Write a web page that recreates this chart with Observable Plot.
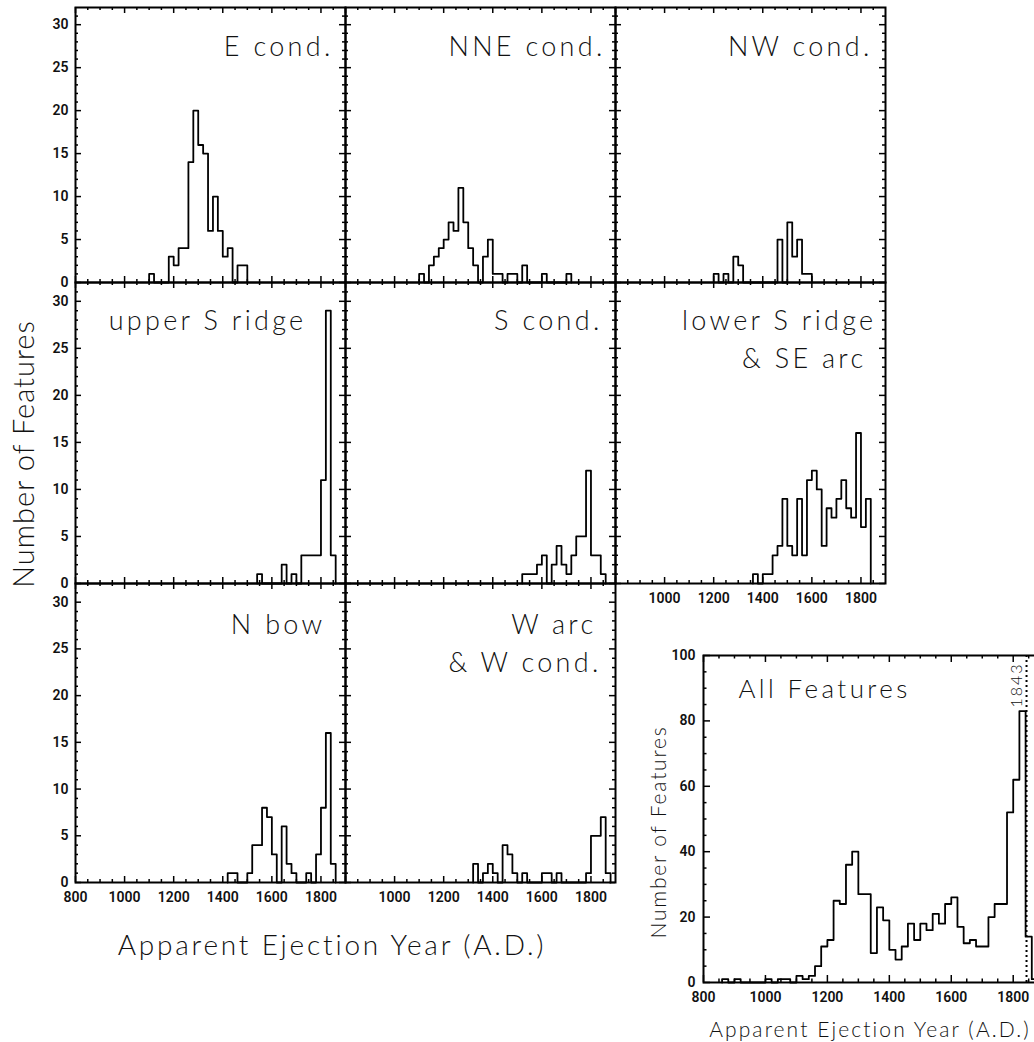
<!DOCTYPE html>
<html>
<head>
<meta charset="utf-8">
<script src="https://cdn.jsdelivr.net/npm/d3@7"></script>
<script src="https://cdn.jsdelivr.net/npm/@observablehq/plot@0.6"></script>
<style>
  html, body { margin: 0; padding: 0; background: #fff; }
  #fig { position: relative; width: 1034px; height: 1042px; overflow: hidden; background: #fff; }
  #fig svg { position: absolute; }
  .axlabel { position: absolute; white-space: nowrap; font-family: Lato, "DejaVu Sans", sans-serif; font-weight: 300; color: #111; line-height: 1; }
</style>
</head>
<body>
<div id="fig"></div>
<script>
// ---------- data ----------
const binWidth = 20;

const yearTicks = [800, 1000, 1200, 1400, 1600, 1800];
const yearTicksNo800 = [1000, 1200, 1400, 1600, 1800];
const yearMinorTicks = [850, 900, 950, 1050, 1100, 1150, 1250, 1300, 1350, 1450, 1500, 1550, 1650, 1700, 1750, 1850];
const countTicks = [0, 5, 10, 15, 20, 25, 30];
const countMinorTicks = [1, 2, 3, 4, 6, 7, 8, 9, 11, 12, 13, 14, 16, 17, 18, 19, 21, 22, 23, 24, 26, 27, 28, 29, 31];
const allTicks = [0, 20, 40, 60, 80, 100];
const allMinorTicks = [5, 10, 15, 25, 30, 35, 45, 50, 55, 65, 70, 75, 85, 90, 95];
const eventYear = 1843;

const eCondStart = 1100;
const eCondCounts = [1, 0, 0, 0, 3, 2, 4, 4, 14, 20, 16, 15, 6, 10, 6, 3, 4, 0, 2, 2];
const nneCondStart = 1100;
const nneCondCounts = [1, 0, 2, 3, 4, 5, 7, 6, 11, 7, 4, 2, 0, 3, 5, 1, 1, 0, 1, 1, 0, 2, 0, 0, 0, 1, 0, 0, 0, 0, 1];
const nwCondStart = 1200;
const nwCondCounts = [1, 0, 1, 0, 3, 2, 0, 0, 0, 0, 0, 0, 0, 5, 0, 7, 3, 5, 1, 1];
const upperSRidgeStart = 1540;
const upperSRidgeCounts = [1, 0, 0, 0, 0, 2, 0, 1, 0, 3, 3, 3, 3, 11, 29, 3];
const sCondStart = 1520;
const sCondCounts = [1, 1, 1, 2, 3, 0, 2, 4, 2, 1, 3, 5, 5, 12, 3, 3, 1];
const lowerSRidgeStart = 1360;
const lowerSRidgeCounts = [1, 0, 1, 1, 3, 4, 9, 4, 3, 9, 3, 11, 12, 10, 4, 8, 7, 9, 11, 8, 7, 16, 6, 9];
const nBowStart = 1420;
const nBowCounts = [1, 1, 0, 0, 1, 4, 4, 8, 7, 3, 0, 6, 2, 1, 0, 0, 1, 0, 3, 8, 16, 2];
const wArcStart = 1320;
const wArcCounts = [2, 0, 1, 2, 1, 0, 4, 3, 1, 0, 1, 0, 0, 0, 1, 1, 0, 1, 0, 0, 0, 0, 0, 1, 5, 5, 7, 1];
const allStart = 860;
const allCounts = [1, 0, 1, 0, 0, 0, 0, 1, 0, 1, 1, 0, 2, 1, 2, 5, 11, 13, 25, 24, 36, 40, 27, 27, 9, 23, 19, 10, 7, 11, 18, 13, 18, 16, 21, 18, 24, 26, 17, 12, 13, 11, 11, 20, 24, 24, 52, 62, 83, 14, 1];

const panelTitles = [
  ["E cond."], ["NNE cond."], ["NW cond."],
  ["upper S ridge"], ["S cond."], ["lower S ridge", "& SE arc"],
  ["N bow"], ["W arc", "& W cond."]
];

// ---------- layout ----------
const colLefts = [75, 345, 615];
const rowTops = [7, 282, 583];
const rowHeights = [275, 301, 299];
const panelWidth = 270;
const TICK_FONT = "Roboto, 'Liberation Sans', Arial, sans-serif";
const TEXT_FONT = "Lato, 'DejaVu Sans', sans-serif";

const panels = [
  {start: eCondStart, counts: eCondCounts, title: panelTitles[0], col: 0, row: 0, right: [12], base: 48, yLabels: true},
  {start: nneCondStart, counts: nneCondCounts, title: panelTitles[1], col: 1, row: 0, right: [10], base: 48},
  {start: nwCondStart, counts: nwCondCounts, title: panelTitles[2], col: 2, row: 0, right: [13], base: 48},
  {start: upperSRidgeStart, counts: upperSRidgeCounts, title: panelTitles[3], col: 0, row: 1, right: [39], base: 47, yLabels: true},
  {start: sCondStart, counts: sCondCounts, title: panelTitles[4], col: 1, row: 1, right: [13], base: 47},
  {start: lowerSRidgeStart, counts: lowerSRidgeCounts, title: panelTitles[5], col: 2, row: 1, right: [9, 19], base: 47, xLabels: yearTicksNo800},
  {start: nBowStart, counts: nBowCounts, title: panelTitles[6], col: 0, row: 2, right: [20], base: 50, yLabels: true, xLabels: yearTicks},
  {start: wArcStart, counts: wArcCounts, title: panelTitles[7], col: 1, row: 2, right: [19, 14], base: 50, xLabels: yearTicksNo800}
];

const fig = document.getElementById("fig");

function stepRows(start, counts) {
  const rows = [{year: start, n: 0}];
  counts.forEach((c, i) => {
    rows.push({year: start + i * binWidth, n: c});
    rows.push({year: start + (i + 1) * binWidth, n: c});
  });
  rows.push({year: start + counts.length * binWidth, n: 0});
  return rows;
}

function tickMarks(w, h, xMaj, xMin, yMaj, yMin, lMaj, lMin) {
  const s = {stroke: "#000", strokeWidth: 1.5};
  return [
    Plot.ruleX(xMaj, {x: d => d, insetTop: h - lMaj, ...s}),
    Plot.ruleX(xMaj, {x: d => d, insetBottom: h - lMaj, ...s}),
    Plot.ruleX(xMin, {x: d => d, insetTop: h - lMin, ...s}),
    Plot.ruleX(xMin, {x: d => d, insetBottom: h - lMin, ...s}),
    Plot.ruleY(yMaj, {y: d => d, insetRight: w - lMaj, ...s}),
    Plot.ruleY(yMaj, {y: d => d, insetLeft: w - lMaj, ...s}),
    Plot.ruleY(yMin, {y: d => d, insetRight: w - lMin, ...s}),
    Plot.ruleY(yMin, {y: d => d, insetLeft: w - lMin, ...s})
  ];
}

// widen the letter spacing of the light (title) texts, like the original's stroke font
function spaceTitles(svg, spacing, numSpacing) {
  svg.querySelectorAll("text").forEach(t => {
    const fam = (t.closest("[font-family]") || t).getAttribute("font-family") || "";
    if (fam.startsWith("Lato")) {
      const isNum = /^\d+$/.test(t.textContent.trim());
      t.style.letterSpacing = (isNum && numSpacing != null ? numSpacing : spacing) + "px";
    }
  });
}

const mL = 60, mR = 12, mT = 12, mB = 34;
const tickText = {fontSize: 14, fontWeight: 600, fill: "#111"};

panels.forEach(p => {
  const h = rowHeights[p.row], w = panelWidth;
  const marks = [
    ...tickMarks(w, h, yearTicks, yearMinorTicks, countTicks, countMinorTicks, 6, 3),
    Plot.line(stepRows(p.start, p.counts), {x: "year", y: "n", stroke: "#000", strokeWidth: 1.8}),
    Plot.frame({stroke: "#000", strokeWidth: 2})
  ];
  if (p.yLabels) {
    marks.push(Plot.text(countTicks, {y: d => d, text: d => String(d), frameAnchor: "left", dx: -7, textAnchor: "end", lineAnchor: "middle", ...tickText}));
  }
  if (p.xLabels) {
    marks.push(Plot.text(p.xLabels, {x: d => d, text: d => String(d), frameAnchor: "bottom", dy: 10, lineAnchor: "top", textAnchor: "middle", ...tickText}));
  }
  p.title.forEach((line, i) => {
    marks.push(Plot.text([line], {text: d => d, frameAnchor: "top-right", dx: -p.right[i], dy: p.base + i * 38, lineAnchor: "bottom", textAnchor: "end", fontSize: 27, fontWeight: 300, fontFamily: TEXT_FONT, fill: "#111"}));
  });
  const svg = Plot.plot({
    width: w + mL + mR, height: h + mT + mB,
    marginLeft: mL, marginRight: mR, marginTop: mT, marginBottom: mB,
    x: {domain: [800, 1900], axis: null},
    y: {domain: [0, 32], axis: null},
    style: {background: "transparent", overflow: "visible", fontFamily: TICK_FONT},
    marks
  });
  spaceTitles(svg, 3.3);
  svg.style.left = (colLefts[p.col] - mL) + "px";
  svg.style.top = (rowTops[p.row] - mT) + "px";
  fig.appendChild(svg);
});

// ---------- inset: All Features ----------
{
  const left = 702.7, top = 655, w = 340.7, h = 327;
  const marks = [
    ...tickMarks(w, h, yearTicks, yearMinorTicks, allTicks, allMinorTicks, 7, 3.5),
    Plot.ruleX([eventYear], {x: d => d, stroke: "#000", strokeWidth: 2, strokeDasharray: "2,3"}),
    Plot.line(stepRows(allStart, allCounts), {x: "year", y: "n", stroke: "#000", strokeWidth: 1.8}),
    Plot.frame({stroke: "#000", strokeWidth: 2}),
    Plot.text(allTicks, {y: d => d, text: d => String(d), frameAnchor: "left", dx: -8, textAnchor: "end", lineAnchor: "middle", ...tickText}),
    Plot.text(yearTicks, {x: d => d, text: d => String(d), frameAnchor: "bottom", dy: 10, lineAnchor: "top", textAnchor: "middle", ...tickText}),
    Plot.text([eventYear], {x: d => d, text: d => String(d), frameAnchor: "top", rotate: -90, textAnchor: "end", lineAnchor: "bottom", dx: -5, dy: 7, fontSize: 16, fontWeight: 300, fontFamily: TEXT_FONT, fill: "#111"}),
    Plot.text(["All Features"], {text: d => d, frameAnchor: "top-left", dx: 35, dy: 43, lineAnchor: "bottom", textAnchor: "start", fontSize: 26, fontWeight: 300, fontFamily: TEXT_FONT, fill: "#111"})
  ];
  const svg = Plot.plot({
    width: w + mL + mR, height: h + mT + mB,
    marginLeft: mL, marginRight: mR, marginTop: mT, marginBottom: mB,
    x: {domain: [800, 1900], axis: null},
    y: {domain: [0, 100], axis: null},
    style: {background: "transparent", overflow: "visible", fontFamily: TICK_FONT},
    marks
  });
  spaceTitles(svg, 3.4, 2);
  svg.style.left = (left - mL) + "px";
  svg.style.top = (top - mT) + "px";
  fig.appendChild(svg);
}

// ---------- axis titles ----------
function addLabel(text, cx, cy, size, spacing, rotate) {
  const d = document.createElement("div");
  d.className = "axlabel";
  d.textContent = text;
  d.style.fontSize = size + "px";
  d.style.letterSpacing = spacing + "px";
  d.style.left = cx + "px";
  d.style.top = cy + "px";
  d.style.transform = "translate(-50%, -50%)" + (rotate ? " rotate(-90deg)" : "");
  fig.appendChild(d);
}
addLabel("Number of Features", 22, 454, 29, 1, true);
addLabel("Apparent Ejection Year (A.D.)", 332, 944, 28, 2.8, false);
addLabel("Number of Features", 657, 832, 21, 1.8, true);
addLabel("Apparent Ejection Year (A.D.)", 870, 1028, 21, 2.1, false);
</script>
</body>
</html>
